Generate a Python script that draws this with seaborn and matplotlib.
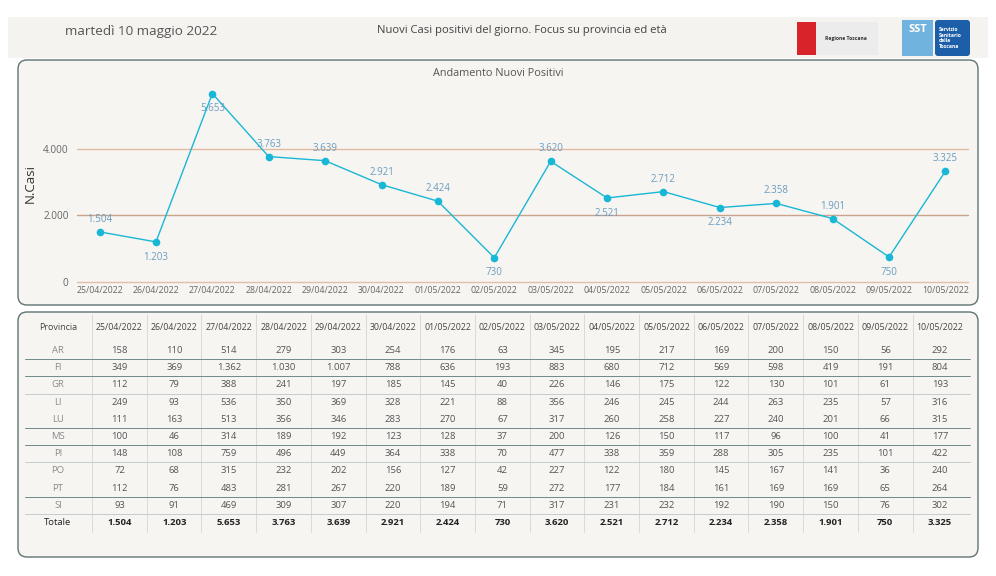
import pandas as pd
import matplotlib.pyplot as plt
import seaborn as sns
from matplotlib.patches import FancyBboxPatch, Rectangle

# Daily new positives (Toscana) and breakdown by province
dates = ['25/04/2022', '26/04/2022', '27/04/2022', '28/04/2022', '29/04/2022', '30/04/2022',
         '01/05/2022', '02/05/2022', '03/05/2022', '04/05/2022', '05/05/2022', '06/05/2022',
         '07/05/2022', '08/05/2022', '09/05/2022', '10/05/2022']
totals = [1504, 1203, 5653, 3763, 3639, 2921, 2424, 730, 3620, 2521, 2712, 2234, 2358, 1901, 750, 3325]

provinces = ['AR', 'FI', 'GR', 'LI', 'LU', 'MS', 'PI', 'PO', 'PT', 'SI']
ar = [158, 110, 514, 279, 303, 254, 176, 63, 345, 195, 217, 169, 200, 150, 56, 292]
fi = [349, 369, 1362, 1030, 1007, 788, 636, 193, 883, 680, 712, 569, 598, 419, 191, 804]
gr = [112, 79, 388, 241, 197, 185, 145, 40, 226, 146, 175, 122, 130, 101, 61, 193]
li = [249, 93, 536, 350, 369, 328, 221, 88, 356, 246, 245, 244, 263, 235, 57, 316]
lu = [111, 163, 513, 356, 346, 283, 270, 67, 317, 260, 258, 227, 240, 201, 66, 315]
ms = [100, 46, 314, 189, 192, 123, 128, 37, 200, 126, 150, 117, 96, 100, 41, 177]
pi = [148, 108, 759, 496, 449, 364, 338, 70, 477, 338, 359, 288, 305, 235, 101, 422]
po = [72, 68, 315, 232, 202, 156, 127, 42, 227, 122, 180, 145, 167, 141, 36, 240]
pt = [112, 76, 483, 281, 267, 220, 189, 59, 272, 177, 184, 161, 169, 169, 65, 264]
si = [93, 91, 469, 309, 307, 220, 194, 71, 317, 231, 232, 192, 190, 150, 76, 302]
by_prov = [ar, fi, gr, li, lu, ms, pi, po, pt, si]

# which point labels sit under the marker
labels_below = {1, 2, 7, 9, 11, 14}


def fmt(n):
    return f'{n:,}'.replace(',', '.')


sns.set_theme(style='white')
plt.rcParams['font.family'] = ['Open Sans', 'DejaVu Sans']

fig = plt.figure(figsize=(9.96, 5.76), dpi=100, facecolor='white')

# background canvas in pixel coordinates
bg = fig.add_axes([0, 0, 1, 1])
bg.set_xlim(0, 996)
bg.set_ylim(576, 0)
bg.axis('off')

panel_face = '#f6f5f1'
panel_edge = '#5f7373'
bg.add_patch(Rectangle((8, 17), 980, 41, facecolor='#f4f3ef', edgecolor='none'))
for y0, h in [(60, 245), (312, 245)]:
    bg.add_patch(FancyBboxPatch((18, y0), 960, h, boxstyle='round,pad=0,rounding_size=9',
                                facecolor=panel_face, edgecolor=panel_edge, lw=1.0))

# header
bg.text(65, 32, 'martedì 10 maggio 2022', fontsize=9.7, color='#555555', va='center', ha='left')
bg.text(522, 31, 'Nuovi Casi positivi del giorno. Focus su provincia ed età', fontsize=8.1,
        color='#444444', va='center', ha='center')

# logos (simplified)
bg.add_patch(Rectangle((797, 22), 19, 33, facecolor='#d8232a', edgecolor='none'))
bg.add_patch(Rectangle((816, 22), 62, 33, facecolor='#ececec', edgecolor='none'))
bg.text(846, 38.5, 'Regione Toscana', fontsize=3.6, fontweight='bold', color='#333333',
        ha='center', va='center')
bg.add_patch(Rectangle((902, 20), 31, 36, facecolor='#6fb3de', edgecolor='none'))
bg.text(917.5, 29, 'SST', fontsize=8, fontweight='bold', color='white', ha='center', va='center')
bg.add_patch(FancyBboxPatch((935, 20), 35, 36, boxstyle='round,pad=0,rounding_size=3',
                            facecolor='#1d5ea8', edgecolor='none'))
bg.text(939, 38, 'Servizio\nSanitario\ndella\nToscana', fontsize=3.6, fontweight='bold',
        color='white', ha='left', va='center', linespacing=1.1)

bg.text(498, 73, 'Andamento Nuovi Positivi', fontsize=7.8, color='#555555', ha='center', va='center')

# line chart
ax = fig.add_axes([77 / 996, (576 - 282) / 576, (968 - 77) / 996, (282 - 82) / 576])
ax.set_facecolor('none')
df = pd.DataFrame({'pos': range(len(dates)), 'casi': totals})
line_color = '#19b7d6'
sns.lineplot(data=df, x='pos', y='casi', ax=ax, color=line_color, lw=1.0, marker='o',
             markersize=5.5, markeredgewidth=0, zorder=3)

for yv, c in [(0, '#e4bea8'), (2000, '#c9a38c'), (4000, '#e3b9a2')]:
    ax.axhline(yv, color=c, lw=1.0, zorder=1, clip_on=False)

for i, v in enumerate(totals):
    dy = -11 if i in labels_below else 9
    ax.annotate(fmt(v), (i, v), xytext=(0, dy), textcoords='offset points', ha='center',
                va='center', fontsize=7, color='#6a9cc0', zorder=4)

ax.set_xlim(-0.4, len(dates) - 0.6)
ax.set_ylim(0, 6000)
ax.set_xticks(range(len(dates)))
ax.set_xticklabels(dates, fontsize=6.3, color='#666666')
ax.set_yticks([0, 2000, 4000])
ax.set_yticklabels([fmt(v) for v in [0, 2000, 4000]], fontsize=7.2, color='#666666')
ax.tick_params(axis='both', length=0)
ax.tick_params(axis='x', pad=3)
ax.tick_params(axis='y', pad=6)
ax.set_xlabel('')
ax.set_ylabel('N.Casi', fontsize=9.5, color='#333333')
ax.yaxis.set_label_coords(-0.045, 0.49)
for s in ax.spines.values():
    s.set_visible(False)

# table
col0_x = 58
col_x0 = 119.5
col_w = 54.7
head_y = 327
row_y0 = 350.5
row_h = 17.2
dark_rows = {0, 1, 4, 5, 8}
no_line_rows = {3, 7}

for k in range(len(dates)):
    sx = 92 + k * col_w
    bg.plot([sx, sx], [314, 532], color='#d3d6d6', lw=0.6)

for r in range(len(provinces)):
    if r in no_line_rows:
        continue
    ly = row_y0 + r * row_h + row_h / 2
    c = '#6f8888' if r in dark_rows else '#c4cccc'
    bg.plot([25, 970], [ly, ly], color=c, lw=0.7)

bg.text(col0_x, head_y, 'Provincia', fontsize=6.5, color='#444444', ha='center', va='center')
for j, d in enumerate(dates):
    bg.text(col_x0 + j * col_w, head_y, d, fontsize=6.3, color='#444444', ha='center', va='center')

for r, (p, vals) in enumerate(zip(provinces, by_prov)):
    yy = row_y0 + r * row_h
    bg.text(col0_x, yy, p, fontsize=6.8, color='#8a8a8a', ha='center', va='center')
    for j, v in enumerate(vals):
        bg.text(col_x0 + j * col_w, yy, fmt(v), fontsize=6.8, color='#555555',
                ha='center', va='center')

yy = row_y0 + len(provinces) * row_h
bg.text(col0_x, yy, 'Totale', fontsize=6.8, color='#222222', ha='center', va='center')
for j, v in enumerate(totals):
    bg.text(col_x0 + j * col_w, yy, fmt(v), fontsize=6.8, fontweight='bold', color='#222222',
            ha='center', va='center')

fig.savefig('out.png', dpi=100, facecolor='white')
